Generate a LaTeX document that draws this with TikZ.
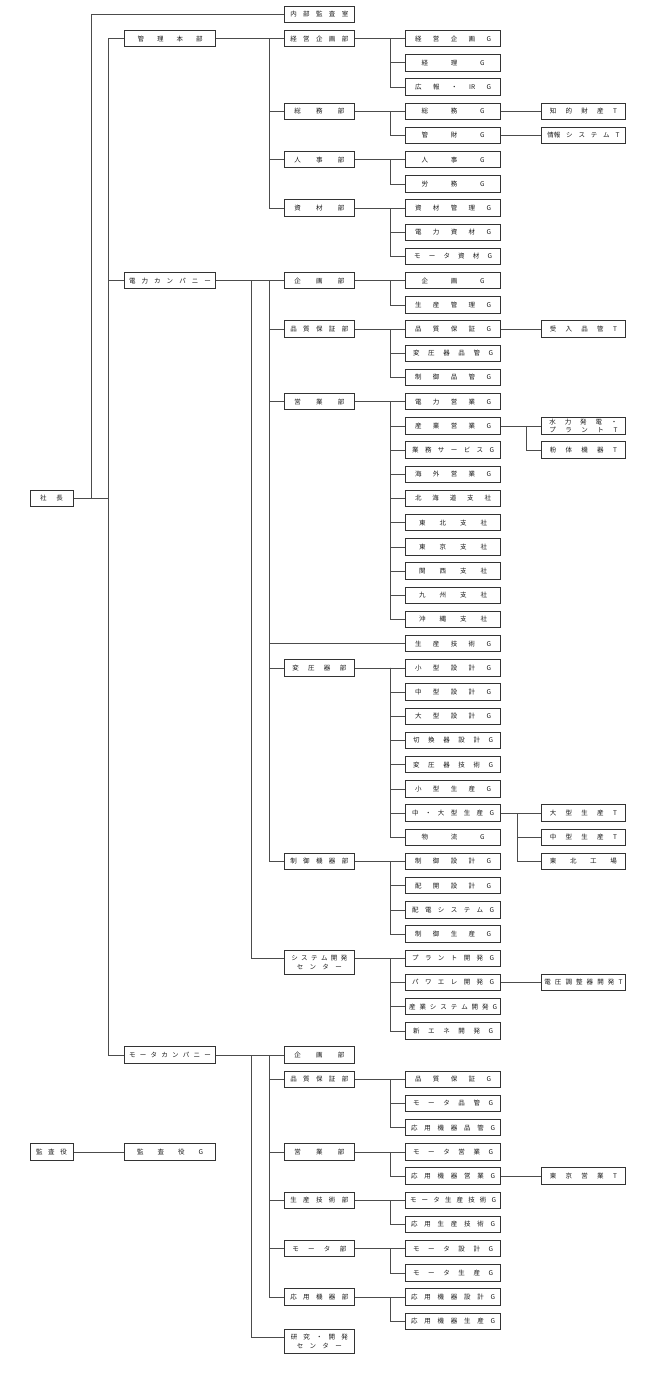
\documentclass[tikz,border=0pt]{standalone}
\usepackage{fontspec}
\usepackage{tikz}
\newfontfamily\jpfont{Noto Sans CJK JP}
\newcommand{\wari}[2]{\makebox[#1pt][s]{#2}}

\begin{document}
\begin{tikzpicture}[x=1pt,y=1pt,yscale=-1,xscale=1,
    box/.style={draw=black!80,line width=1pt,fill=white,inner sep=0pt,minimum height=16.5pt,text=black!90,font=\jpfont\fontsize{6.5}{8.4}\selectfont,align=center},
    lv0/.style={box,minimum width=43pt},
    lv1/.style={box,minimum width=91pt},
    lv2/.style={box,minimum width=69.4pt},
    lv3/.style={box,minimum width=95.4pt},
    lv4/.style={box,minimum width=83.8pt},
    conn/.style={draw=black!70,line width=0.8pt}]
    \useasboundingbox (0,0) rectangle (650,1378);

    %Vertical lines: x positions
    \coordinate (bA) at (90.9,0);
    \coordinate (bB) at (108.7,0);
    \coordinate (bC) at (251.5,0);
    \coordinate (bD) at (269.7,0);
    \coordinate (bE) at (390,0);
    \coordinate (bF) at (526,0);
    \coordinate (bG) at (517,0);

    %Shape: Rectangle [top]
    \node[lv0] (shacho) at (51.5,498.5) {\wari{23}{社 長}};
    \node[lv0] (kansa) at (51.5,1151.9) {\wari{31}{監 査 役}};

    %Shape: Rectangle [level 1]
    \node[lv1] (kanri) at (170,38.7) {\wari{65}{管 理 本 部}};
    \node[lv1] (denryoku) at (170,280.7) {\wari{82}{電 力 カ ン パ ニ ー}};
    \node[lv1] (motor) at (170,1055.1) {\wari{82}{モ ー タ カ ン パ ニ ー}};
    \node[lv1] (kansaG) at (170,1151.9) {\wari{66}{監 査 役 G}};

    %Shape: Rectangle [level 2]
    \node[lv2] (naibu) at (319.3,14.5) {\wari{58}{内 部 監 査 室}};
    \node[lv2] (keiei) at (319.3,38.7) {\wari{58}{経 営 企 画 部}};
    \node[lv2] (soumu) at (319.3,111.3) {\wari{50}{総 務 部}};
    \node[lv2] (jinji) at (319.3,159.7) {\wari{50}{人 事 部}};
    \node[lv2] (shizai) at (319.3,208.1) {\wari{50}{資 材 部}};
    \node[lv2] (dkikaku) at (319.3,280.7) {\wari{50}{企 画 部}};
    \node[lv2] (dhinsho) at (319.3,329.1) {\wari{58}{品 質 保 証 部}};
    \node[lv2] (deigyo) at (319.3,401.7) {\wari{50}{営 業 部}};
    \node[lv2] (henatsu) at (319.3,667.9) {\wari{54}{変 圧 器 部}};
    \node[lv2] (seigyo) at (319.3,861.5) {\wari{58}{制 御 機 器 部}};
    \node[lv2,anchor=north,minimum height=24.5pt] (sys) at (319.3,949.8) {\wari{56}{シ ス テ ム 開 発}\\\wari{45}{セ ン タ ー}};
    \node[lv2] (mkikaku) at (319.3,1055.1) {\wari{50}{企 画 部}};
    \node[lv2] (mhinsho) at (319.3,1079.3) {\wari{58}{品 質 保 証 部}};
    \node[lv2] (meigyo) at (319.3,1151.9) {\wari{50}{営 業 部}};
    \node[lv2] (mseigi) at (319.3,1200.3) {\wari{58}{生 産 技 術 部}};
    \node[lv2] (mbu) at (319.3,1248.7) {\wari{54}{モ ー タ 部}};
    \node[lv2] (oyo) at (319.3,1297.1) {\wari{58}{応 用 機 器 部}};
    \node[lv2,anchor=north,minimum height=23.5pt] (kenkyu) at (319.3,1329.3) {\wari{57}{研 究 ・ 開 発}\\\wari{45}{セ ン タ ー}};

    %Shape: Rectangle [level 3]
    \node[lv3] (keieiG) at (453.1,38.7) {\wari{76}{経 営 企 画 G}};
    \node[lv3] (keiriG) at (453.1,62.9) {\wari{63}{経 理 G}};
    \node[lv3] (kohoG) at (453.1,87.1) {\wari{76}{広 報 ・ IR G}};
    \node[lv3] (soumuG) at (453.1,111.3) {\wari{63}{総 務 G}};
    \node[lv3] (kanzaiG) at (453.1,135.5) {\wari{63}{管 財 G}};
    \node[lv3] (jinjiG) at (453.1,159.7) {\wari{63}{人 事 G}};
    \node[lv3] (roumuG) at (453.1,183.9) {\wari{63}{労 務 G}};
    \node[lv3] (shizaiG) at (453.1,208.1) {\wari{76}{資 材 管 理 G}};
    \node[lv3] (denshiG) at (453.1,232.3) {\wari{76}{電 力 資 材 G}};
    \node[lv3] (mshizaiG) at (453.1,256.5) {\wari{78}{モ ー タ 資 材 G}};
    \node[lv3] (dkikakuG) at (453.1,280.7) {\wari{63}{企 画 G}};
    \node[lv3] (seikanG) at (453.1,304.9) {\wari{76}{生 産 管 理 G}};
    \node[lv3] (dhinshoG) at (453.1,329.1) {\wari{76}{品 質 保 証 G}};
    \node[lv3] (henhinG) at (453.1,353.3) {\wari{80}{変 圧 器 品 管 G}};
    \node[lv3] (seihinG) at (453.1,377.5) {\wari{76}{制 御 品 管 G}};
    \node[lv3] (denryokuEG) at (453.1,401.7) {\wari{76}{電 力 営 業 G}};
    \node[lv3] (sangyoEG) at (453.1,425.9) {\wari{76}{産 業 営 業 G}};
    \node[lv3] (gyomuG) at (453.1,450.1) {\wari{82}{業 務 サ ー ビ ス G}};
    \node[lv3] (kaigaiG) at (453.1,474.3) {\wari{76}{海 外 営 業 G}};
    \node[lv3] (hokkaido) at (453.1,498.5) {\wari{76}{北 海 道 支 社}};
    \node[lv3] (tohoku) at (453.1,522.7) {\wari{68}{東 北 支 社}};
    \node[lv3] (tokyo) at (453.1,546.9) {\wari{68}{東 京 支 社}};
    \node[lv3] (kansai) at (453.1,571.1) {\wari{68}{関 西 支 社}};
    \node[lv3] (kyushu) at (453.1,595.3) {\wari{68}{九 州 支 社}};
    \node[lv3] (okinawa) at (453.1,619.5) {\wari{68}{沖 縄 支 社}};
    \node[lv3] (seigiG) at (453.1,643.7) {\wari{76}{生 産 技 術 G}};
    \node[lv3] (kogataSG) at (453.1,667.9) {\wari{76}{小 型 設 計 G}};
    \node[lv3] (chugataSG) at (453.1,692.1) {\wari{76}{中 型 設 計 G}};
    \node[lv3] (ogataSG) at (453.1,716.3) {\wari{76}{大 型 設 計 G}};
    \node[lv3] (kirikaeG) at (453.1,740.5) {\wari{80}{切 換 器 設 計 G}};
    \node[lv3] (hengiG) at (453.1,764.7) {\wari{80}{変 圧 器 技 術 G}};
    \node[lv3] (kogataPG) at (453.1,788.9) {\wari{76}{小 型 生 産 G}};
    \node[lv3] (chuoG) at (453.1,813.1) {\wari{82}{中 ・ 大 型 生 産 G}};
    \node[lv3] (butsuryuG) at (453.1,837.3) {\wari{63}{物 流 G}};
    \node[lv3] (seisekkeiG) at (453.1,861.5) {\wari{76}{制 御 設 計 G}};
    \node[lv3] (haikaiG) at (453.1,885.7) {\wari{76}{配 開 設 計 G}};
    \node[lv3] (haidenG) at (453.1,909.9) {\wari{82}{配 電 シ ス テ ム G}};
    \node[lv3] (seiseiG) at (453.1,934.1) {\wari{76}{制 御 生 産 G}};
    \node[lv3] (plantG) at (453.1,958.3) {\wari{82}{プ ラ ン ト 開 発 G}};
    \node[lv3] (pawereG) at (453.1,982.5) {\wari{82}{パ ワ エ レ 開 発 G}};
    \node[lv3] (sangyoSysG) at (453.1,1006.7) {\wari{88}{産 業 シ ス テ ム 開 発 G}};
    \node[lv3] (shinEneG) at (453.1,1030.9) {\wari{80}{新 エ ネ 開 発 G}};
    \node[lv3] (mhinshoG) at (453.1,1079.3) {\wari{76}{品 質 保 証 G}};
    \node[lv3] (mhinkanG) at (453.1,1103.5) {\wari{80}{モ ー タ 品 管 G}};
    \node[lv3] (ohinkanG) at (453.1,1127.7) {\wari{84}{応 用 機 器 品 管 G}};
    \node[lv3] (meigyoG) at (453.1,1151.9) {\wari{80}{モ ー タ 営 業 G}};
    \node[lv3] (oeigyoG) at (453.1,1176.1) {\wari{84}{応 用 機 器 営 業 G}};
    \node[lv3] (mseigiG) at (453.1,1200.3) {\wari{86}{モ ー タ 生 産 技 術 G}};
    \node[lv3] (oseigiG) at (453.1,1224.5) {\wari{84}{応 用 生 産 技 術 G}};
    \node[lv3] (msekkeiG) at (453.1,1248.7) {\wari{80}{モ ー タ 設 計 G}};
    \node[lv3] (mseisanG) at (453.1,1272.9) {\wari{80}{モ ー タ 生 産 G}};
    \node[lv3] (osekkeiG) at (453.1,1297.1) {\wari{84}{応 用 機 器 設 計 G}};
    \node[lv3] (oseisanG) at (453.1,1321.3) {\wari{84}{応 用 機 器 生 産 G}};

    %Shape: Rectangle [level 4]
    \node[lv4] (chiteki) at (583.4,111.3) {\wari{67}{知 的 財 産 T}};
    \node[lv4] (joho) at (583.4,135.5) {\wari{72}{情報 シ ス テ ム T}};
    \node[lv4] (ukeire) at (583.4,329.1) {\wari{67}{受 入 品 管 T}};
    \node[lv4] (suiryoku) at (583.4,425.9) {\wari{68}{水 力 発 電 ・}\\\wari{68}{プ ラ ン ト T}};
    \node[lv4] (funtai) at (583.4,450.1) {\wari{67}{粉 体 機 器 T}};
    \node[lv4] (ogataT) at (583.4,813.1) {\wari{67}{大 型 生 産 T}};
    \node[lv4] (chugataT) at (583.4,837.3) {\wari{67}{中 型 生 産 T}};
    \node[lv4] (tohokuKojo) at (583.4,861.5) {\wari{67}{東 北 工 場}};
    \node[lv4] (denatsu) at (583.4,982.5) {\wari{78}{電 圧 調 整 器 開 発 T}};
    \node[lv4] (tokyoEig) at (583.4,1176.1) {\wari{67}{東 京 営 業 T}};

    %Straight Lines [社長, 監査役]
    \draw[conn] (shacho.east) -- (shacho.east -| bB);
    \draw[conn] (shacho.east -| bA) |- (naibu.west);
    \draw[conn] (shacho.east -| bB) |- (kanri.west) (shacho.east -| bB) |- (denryoku.west) (shacho.east -| bB) |- (motor.west);
    \draw[conn] (kansa.east) -- (kansaG.west);

    %Straight Lines [管理本部]
    \draw[conn] (kanri.east) -- (keiei.west) (keiei.west -| bD) |- (soumu.west) (keiei.west -| bD) |- (jinji.west) (keiei.west -| bD) |- (shizai.west);
    \draw[conn] (keiei.east) -- (keieiG.west) (keieiG.west -| bE) |- (keiriG.west) (keieiG.west -| bE) |- (kohoG.west);
    \draw[conn] (soumu.east) -- (soumuG.west) (soumuG.west -| bE) |- (kanzaiG.west);
    \draw[conn] (jinji.east) -- (jinjiG.west) (jinjiG.west -| bE) |- (roumuG.west);
    \draw[conn] (shizai.east) -- (shizaiG.west) (shizaiG.west -| bE) |- (denshiG.west) (shizaiG.west -| bE) |- (mshizaiG.west);
    \draw[conn] (soumuG.east) -- (chiteki.west);
    \draw[conn] (kanzaiG.east) -- (joho.west);

    %Straight Lines [電力カンパニー]
    \draw[conn] (denryoku.east) -- (dkikaku.west) (dkikaku.west -| bC) |- (sys.west |- plantG.west);
    \draw[conn] (dkikaku.west -| bD) |- (dhinsho.west) (dkikaku.west -| bD) |- (deigyo.west) (dkikaku.west -| bD) |- (seigiG.west) (dkikaku.west -| bD) |- (henatsu.west) (dkikaku.west -| bD) |- (seigyo.west);
    \draw[conn] (dkikaku.east) -- (dkikakuG.west) (dkikakuG.west -| bE) |- (seikanG.west);
    \draw[conn] (dhinsho.east) -- (dhinshoG.west) (dhinshoG.west -| bE) |- (henhinG.west) (dhinshoG.west -| bE) |- (seihinG.west);
    \draw[conn] (dhinshoG.east) -- (ukeire.west);
    \draw[conn] (deigyo.east) -- (denryokuEG.west);
    \foreach \g in {sangyoEG,gyomuG,kaigaiG,hokkaido,tohoku,tokyo,kansai,kyushu,okinawa}
        \draw[conn] (denryokuEG.west -| bE) |- (\g.west);
    \draw[conn] (sangyoEG.east) -- (suiryoku.west) (suiryoku.west -| bF) |- (funtai.west);
    \draw[conn] (henatsu.east) -- (kogataSG.west);
    \foreach \g in {chugataSG,ogataSG,kirikaeG,hengiG,kogataPG,chuoG,butsuryuG}
        \draw[conn] (kogataSG.west -| bE) |- (\g.west);
    \draw[conn] (chuoG.east) -- (ogataT.west) (ogataT.west -| bG) |- (chugataT.west) (ogataT.west -| bG) |- (tohokuKojo.west);
    \draw[conn] (seigyo.east) -- (seisekkeiG.west) (seisekkeiG.west -| bE) |- (haikaiG.west) (seisekkeiG.west -| bE) |- (haidenG.west) (seisekkeiG.west -| bE) |- (seiseiG.west);
    \draw[conn] (sys.east |- plantG.west) -- (plantG.west) (plantG.west -| bE) |- (pawereG.west) (plantG.west -| bE) |- (sangyoSysG.west) (plantG.west -| bE) |- (shinEneG.west);
    \draw[conn] (pawereG.east) -- (denatsu.west);

    %Straight Lines [モータカンパニー]
    \draw[conn] (motor.east) -- (mkikaku.west);
    \draw[conn] (kenkyu.north west) ++(0,8) -| (mkikaku.west -| bC);
    \draw[conn] (mkikaku.west -| bD) |- (mhinsho.west) (mkikaku.west -| bD) |- (meigyo.west) (mkikaku.west -| bD) |- (mseigi.west) (mkikaku.west -| bD) |- (mbu.west) (mkikaku.west -| bD) |- (oyo.west);
    \draw[conn] (mhinsho.east) -- (mhinshoG.west) (mhinshoG.west -| bE) |- (mhinkanG.west) (mhinshoG.west -| bE) |- (ohinkanG.west);
    \draw[conn] (meigyo.east) -- (meigyoG.west) (meigyoG.west -| bE) |- (oeigyoG.west);
    \draw[conn] (oeigyoG.east) -- (tokyoEig.west);
    \draw[conn] (mseigi.east) -- (mseigiG.west) (mseigiG.west -| bE) |- (oseigiG.west);
    \draw[conn] (mbu.east) -- (msekkeiG.west) (msekkeiG.west -| bE) |- (mseisanG.west);
    \draw[conn] (oyo.east) -- (osekkeiG.west) (osekkeiG.west -| bE) |- (oseisanG.west);

\end{tikzpicture}
\end{document}
